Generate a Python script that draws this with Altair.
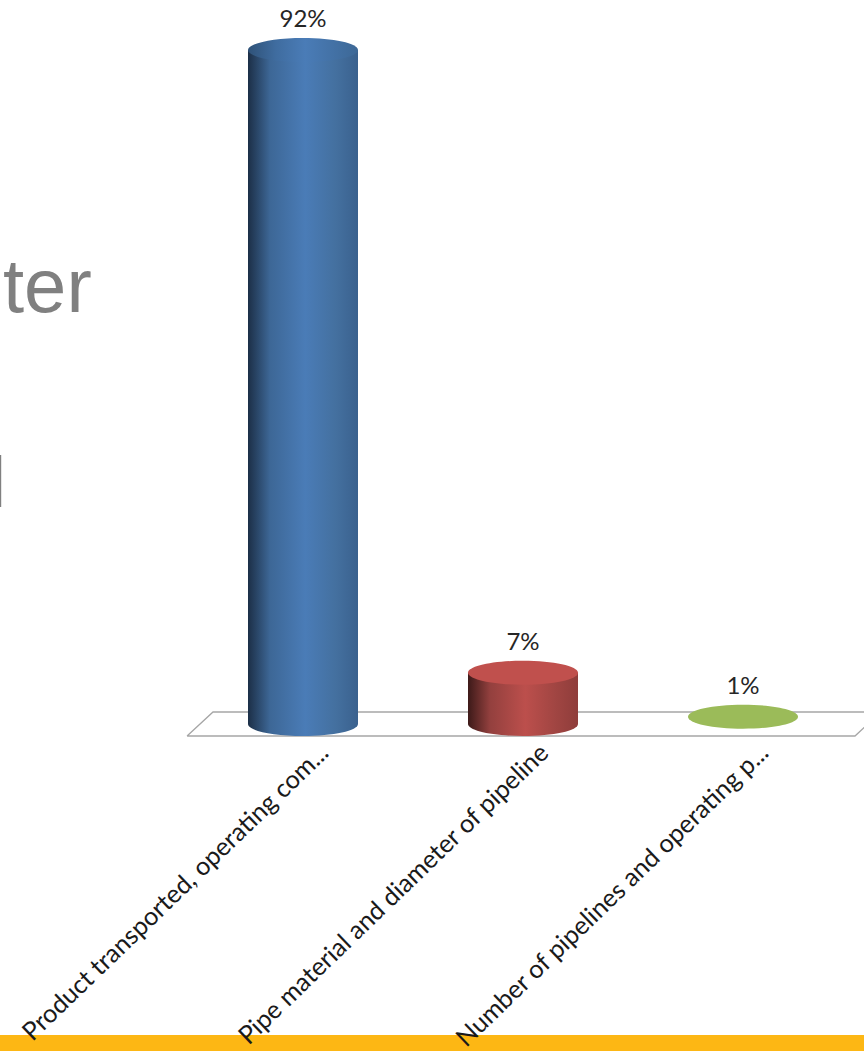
import altair as alt
import pandas as pd

categories = [
    "Product transported, operating com...",
    "Pipe material and diameter of pipeline",
    "Number of pipelines and operating p...",
]
values = [92, 7, 1]
percent_labels = ["92%", "7%", "1%"]

W, H = 864, 1051
PX_PER_UNIT = 7.326
BASE_Y = 724
STEP = 220
FIRST_X = 303
x_scale = alt.Scale(domain=[-FIRST_X / STEP, (W - FIRST_X) / STEP], range=[0, W], nice=False, zero=False, padding=0)
y_scale = alt.Scale(domain=[(BASE_Y - H) / PX_PER_UNIT, BASE_Y / PX_PER_UNIT], range=[H, 0], nice=False, zero=False)

ELLIPSE = "M -1 0 A 1 0.218 0 1 1 1 0 A 1 0.218 0 1 1 -1 0 Z"
CYL_W = 110


def shade(stops):
    return alt.Gradient(
        gradient="linear", x1=0, x2=1, y1=0, y2=0,
        stops=[alt.GradientStop(offset=o, color=c) for o, c in stops],
    )


side_shades = [
    shade([(0, "#1c2f47"), (0.2, "#3d6796"), (0.52, "#4a7cb7"), (0.8, "#44709f"), (1, "#3a618e")]),
    shade([(0, "#3d1a19"), (0.2, "#93403e"), (0.52, "#bc4f4c"), (0.8, "#a04542"), (1, "#8f3d3b")]),
]
cap_fills = [
    shade([(0, "#2f5278"), (0.25, "#3f6c9f"), (0.52, "#4a7cb7"), (1, "#3d6896")]),
    "#c0504d",
    "#9bbb59",
]

table = pd.DataFrame({
    "pos": list(range(len(categories))),
    "value": values,
    "category": categories,
    "label": percent_labels,
    "zero": [0] * len(values),
})
X = alt.X("pos:Q", scale=x_scale, axis=None)
Y = alt.Y("value:Q", scale=y_scale, axis=None)

# Slide fragments around the chart
footer = alt.Chart(pd.DataFrame({"a": [0]})).mark_rect(color="#fdb714").encode(
    x=alt.value(0), x2=alt.value(W), y=alt.value(1035), y2=alt.value(H)
)
slide_word = alt.Chart(pd.DataFrame({"t": ["ter"]})).mark_text(
    font="Liberation Sans", fontSize=76, color="#808080", align="left", baseline="alphabetic"
).encode(x=alt.value(3), y=alt.value(312), text="t:N")
slide_stroke = alt.Chart(pd.DataFrame({"a": [0]})).mark_rect(color="#808080").encode(
    x=alt.value(0), x2=alt.value(1.2), y=alt.value(455), y2=alt.value(507)
)

# Floor of the 3-D plot, in category and value units
floor_x = [-0.527, -0.409, 2.627, 2.509, -0.527]
floor_y = [-1.64, 1.64, 1.64, -1.64, -1.64]
floor = alt.Chart(pd.DataFrame({"x": floor_x, "y": floor_y, "o": range(5)})).mark_line(
    color="#a6a6a6", strokeWidth=1.3, clip=True
).encode(
    x=alt.X("x:Q", scale=x_scale, axis=None),
    y=alt.Y("y:Q", scale=y_scale, axis=None),
    order="o:Q",
)

layers = [floor, slide_word, slide_stroke]

# Cylinders: only series taller than the thin slab get a visible side
for i, fill in enumerate(side_shades):
    row = alt.Chart(table[table.pos == i])
    layers.append(row.mark_point(shape=ELLIPSE, size=CYL_W ** 2, filled=True, opacity=1, fill=fill, strokeWidth=0).encode(
        x=X, y=alt.Y("zero:Q", scale=y_scale, axis=None)))
    layers.append(row.mark_bar(size=CYL_W, fill=fill, strokeWidth=0).encode(
        x=X, y=Y, y2=alt.Y2("zero:Q")))

for i, fill in enumerate(cap_fills):
    layers.append(alt.Chart(table[table.pos == i]).mark_point(
        shape=ELLIPSE, size=CYL_W ** 2, filled=True, opacity=1, fill=fill, strokeWidth=0
    ).encode(x=X, y=Y))

value_text = alt.Chart(table).mark_text(
    font="Lato", fontSize=24, color="#262626", dy=-30
).encode(x=X, y=Y, text="label:N")

label_table = table.assign(anchor_x=table.pos + 0.098, anchor_y=-3.4)
axis_text = alt.Chart(label_table).mark_text(
    font="Lato", fontSize=25.3, color="#1a1a1a", angle=316, align="right", baseline="middle"
).encode(
    x=alt.X("anchor_x:Q", scale=x_scale, axis=None),
    y=alt.Y("anchor_y:Q", scale=y_scale, axis=None),
    text="category:N",
)

layers += [value_text, footer, axis_text]

chart = alt.layer(*layers).properties(
    width=W, height=H, padding=0, autosize=alt.AutoSizeParams(type="none"), background="white"
).configure_view(stroke=None)

chart.save("out.html", embed_options={"renderer": "svg", "actions": False})
